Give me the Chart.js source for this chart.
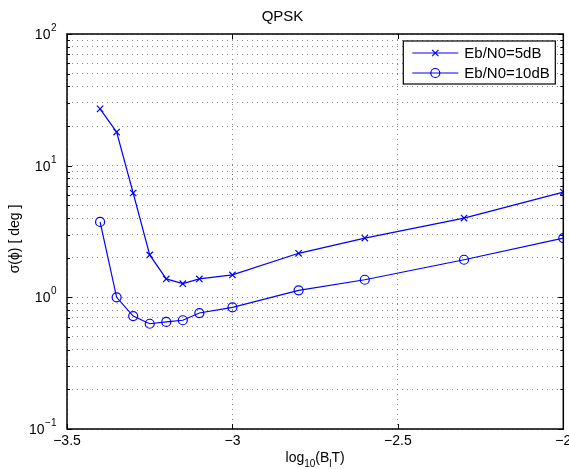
<!DOCTYPE html>
<html>
<head>
<meta charset="utf-8">
<script src="https://cdn.jsdelivr.net/npm/chart.js@4"></script>
<style>
  body { margin: 0; background: #fff; }
  #wrap { width: 569px; height: 469px; }
</style>
</head>
<body>
<div id="wrap"><canvas id="QPSKCHART"></canvas></div>
<script>
// log10(BlT)
const xValues = [-3.4, -3.35, -3.3, -3.25, -3.2, -3.15, -3.1, -3.0, -2.8, -2.6, -2.3, -2.0];
// sigma(phi) in degrees
const eb5 = [27, 18, 6.2, 2.1, 1.38, 1.27, 1.38, 1.48, 2.16, 2.82, 4.0, 6.3];
const eb10 = [3.74, 1.0, 0.72, 0.63, 0.65, 0.67, 0.76, 0.84, 1.13, 1.36, 1.93, 2.82];
const seriesLabels = ['Eb/N0=5dB', 'Eb/N0=10dB'];

const xTicks = [-3.5, -3, -2.5, -2];
const yDecades = [0.1, 1, 10, 100];
const yExponents = ['\u22121', '0', '1', '2'];

const BLUE = '#0000ff';
const FONT = 'Liberation Sans, Arial, Helvetica, sans-serif';

function define() {

    let ctx = document.getElementById('QPSKCHART');

    // box, inward ticks, 10^n labels, axis titles with sub/superscripts, legend
    const frame = {
        id: 'frame',
        afterDraw(chart) {
            const c = chart.ctx;
            const a = chart.chartArea;
            const xs = chart.scales.x, ys = chart.scales.y;
            c.save();
            c.strokeStyle = '#000';
            c.lineWidth = 1;
            c.beginPath();
            xs.ticks.forEach(t => {
                const px = Math.round(xs.getPixelForValue(t.value)) + 0.5;
                c.moveTo(px, a.bottom); c.lineTo(px, a.bottom - 5);
                c.moveTo(px, a.top); c.lineTo(px, a.top + 5);
            });
            ys.ticks.forEach(t => {
                const py = Math.round(ys.getPixelForValue(t.value)) + 0.5;
                const len = yDecades.includes(t.value) ? 5 : 3;
                c.moveTo(a.left, py); c.lineTo(a.left + len, py);
                c.moveTo(a.right, py); c.lineTo(a.right - len, py);
            });
            c.stroke();
            c.lineWidth = 1.5;
            c.strokeRect(a.left, a.top, a.right - a.left, a.bottom - a.top);

            // y tick labels 10^n
            c.fillStyle = '#000';
            c.textBaseline = 'alphabetic';
            c.textAlign = 'left';
            yDecades.forEach((d, i) => {
                const py = ys.getPixelForValue(d);
                c.font = '10px ' + FONT;
                const we = c.measureText(yExponents[i]).width;
                c.font = '14px ' + FONT;
                const wb = c.measureText('10').width;
                const x0 = a.left - 11 - we - wb;
                c.fillText('10', x0, py + 5);
                c.font = '10px ' + FONT;
                c.fillText(yExponents[i], x0 + wb + 0.5, py - 3);
            });

            // x title: log10(BlT)
            const parts = [['log', 14, 0], ['10', 10, 5], ['(B', 14, 0], ['l', 10, 5], ['T)', 14, 0]];
            let total = 0;
            parts.forEach(p => { c.font = p[1] + 'px ' + FONT; p.push(c.measureText(p[0]).width); total += p[3]; });
            let tx = (a.left + a.right) / 2 - total / 2;
            parts.forEach(p => {
                c.font = p[1] + 'px ' + FONT;
                c.fillText(p[0], tx, 462 + p[2]);
                tx += p[3];
            });

            // y title
            c.save();
            c.translate(15, 239);
            c.rotate(-Math.PI / 2);
            c.font = '14px ' + FONT;
            c.textAlign = 'center';
            c.textBaseline = 'middle';
            c.fillText('\u03C3(\u03D5) [ deg ]', 0, 0);
            c.restore();

            // legend
            const bx = a.right - 160, by = a.top + 7, bw = 152, bh = 43;
            c.fillStyle = '#fff';
            c.fillRect(bx, by, bw, bh);
            c.strokeStyle = '#000';
            c.lineWidth = 1.2;
            c.strokeRect(bx, by, bw, bh);
            c.font = '15px ' + FONT;
            c.textBaseline = 'middle';
            chart.data.datasets.forEach((ds, i) => {
                const ry = by + 12 + i * 20;
                c.strokeStyle = BLUE;
                c.lineWidth = 1.2;
                c.beginPath();
                c.moveTo(bx + 9, ry); c.lineTo(bx + 55, ry);
                c.stroke();
                c.fillStyle = 'rgba(0,0,0,0)';
                Chart.helpers.drawPoint(c, {pointStyle: ds.pointStyle, radius: ds.pointRadius, borderWidth: 1.2}, bx + 32, ry);
                c.fillStyle = '#000';
                c.fillText(ds.label, bx + 61, ry + 1);
            });
            c.restore();
        }
    };

    let chart = new Chart(ctx, {
        type: 'line',
        data: {
            datasets: [{
                label: seriesLabels[0],
                data: xValues.map((x, i) => ({x: x, y: eb5[i]})),
                borderColor: BLUE,
                borderWidth: 1.2,
                pointStyle: 'crossRot',
                pointRadius: 4.5,
                pointBorderColor: BLUE,
                pointBorderWidth: 1.2,
                pointBackgroundColor: 'transparent',
                tension: 0
            }, {
                label: seriesLabels[1],
                data: xValues.map((x, i) => ({x: x, y: eb10[i]})),
                borderColor: BLUE,
                borderWidth: 1.2,
                pointStyle: 'circle',
                pointRadius: 4.5,
                pointBorderColor: BLUE,
                pointBorderWidth: 1.2,
                pointBackgroundColor: 'transparent',
                tension: 0
            }]
        },
        options: {
            responsive: true,
            maintainAspectRatio: false,
            animation: false,
            layout: {
                padding: {left: 0, right: 4, top: 0, bottom: 0}
            },
            scales: {
                x: {
                    type: 'linear',
                    min: -3.5,
                    max: -2,
                    afterBuildTicks: scale => { scale.ticks = xTicks.map(v => ({value: v})); },
                    afterFit: scale => { scale.height = 40; scale.paddingLeft = 0; scale.paddingRight = 0; },
                    ticks: {
                        color: '#000',
                        font: {family: FONT, size: 14},
                        padding: 4,
                        callback: v => String(v).replace('-', '\u2212')
                    },
                    grid: {
                        color: '#888',
                        lineWidth: 1,
                        drawTicks: false
                    },
                    border: {display: false, dash: [1, 4]}
                },
                y: {
                    type: 'logarithmic',
                    min: 0.1,
                    max: 100,
                    afterBuildTicks: scale => {
                        let t = [];
                        yDecades.forEach((d, i) => {
                            t.push({value: d, major: true});
                            if (i < yDecades.length - 1) {
                                for (let k = 2; k <= 9; k++) t.push({value: +(d * k).toPrecision(3)});
                            }
                        });
                        scale.ticks = t;
                    },
                    afterFit: scale => { scale.width = 67; scale.paddingTop = 0; scale.paddingBottom = 0; },
                    ticks: {
                        display: false
                    },
                    grid: {
                        color: '#888',
                        lineWidth: 1,
                        drawTicks: false
                    },
                    border: {display: false, dash: [1, 4]}
                }
            },
            plugins: {
                legend: {
                    display: false
                },
                tooltip: {enabled: false},
                title: {
                    display: true,
                    text: 'QPSK',
                    color: '#000',
                    font: {family: FONT, size: 15, weight: 'normal'},
                    padding: {top: 8, bottom: 8}
                }
            }
        },
        plugins: [frame]
    });

    return chart
}

define();
</script>
</body>
</html>
